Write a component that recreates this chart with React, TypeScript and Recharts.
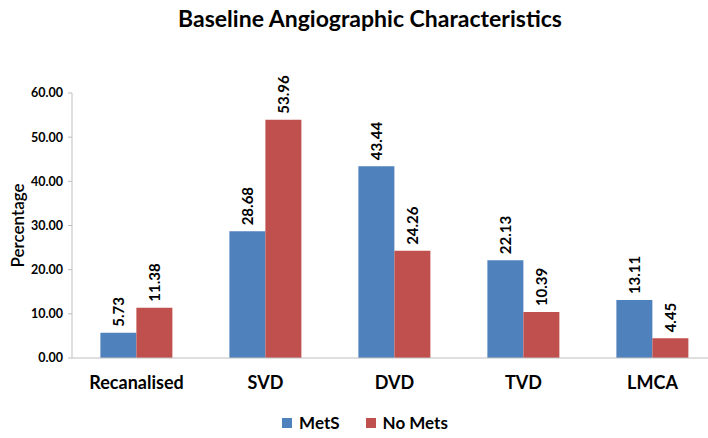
import { BarChart, Bar, XAxis, YAxis, LabelList } from "recharts";

const categories = ["Recanalised", "SVD", "DVD", "TVD", "LMCA"];
const metS = [5.73, 28.68, 43.44, 22.13, 13.11];
const noMets = [11.38, 53.96, 24.26, 10.39, 4.45];
const yTicks = [0, 10, 20, 30, 40, 50, 60];

const data = categories.map((name, i) => ({ name, metS: metS[i], noMets: noMets[i] }));

const FONT = "Lato, 'Open Sans', sans-serif";

const BarLabel = (props: any) => {
  const { x, y, width, value } = props;
  const cx = x + width / 2;
  const cy = y - 6;
  return (
    <text
      x={cx}
      y={cy}
      transform={`rotate(-90, ${cx}, ${cy})`}
      textAnchor="start"
      dominantBaseline="central"
      fontSize={15}
      fontWeight={700}
      fontFamily={FONT}
      fill="#000"
    >
      {Number(value).toFixed(2)}
    </text>
  );
};

export default function App() {
  return (
    <div style={{ position: "absolute", left: 0, top: 0, width: 708, height: 438, overflow: "hidden", background: "#fff" }}>
      <div style={{ position: "absolute", top: 4, left: 0, width: 740, textAlign: "center", fontFamily: FONT, fontWeight: 700, fontSize: 23 }}>
        Baseline Angiographic Characteristics
      </div>
      <BarChart
        width={720}
        height={438}
        data={data}
        margin={{ top: 93, right: 3, left: 0, bottom: 0 }}
        barCategoryGap="22%"
        barGap={0}
      >
        <XAxis
          dataKey="name"
          height={80}
          axisLine={{ stroke: "#bfbfbf" }}
          tickLine={false}
          tick={{ fontSize: 18, fontWeight: 700, fontFamily: FONT, fill: "#000" }}
          tickMargin={12}
        />
        <YAxis
          width={72}
          domain={[0, 60]}
          ticks={yTicks}
          interval={0}
          tickFormatter={(v: number) => v.toFixed(2)}
          axisLine={{ stroke: "#bfbfbf" }}
          tickLine={{ stroke: "#bfbfbf" }}
          tickSize={4}
          tickMargin={5}
          tick={{ fontSize: 12.5, fontWeight: 700, fontFamily: FONT, fill: "#000" }}
          label={{ value: "Percentage", angle: -90, position: "insideLeft", offset: 18, style: { fontSize: 17, fontFamily: FONT, fontWeight: 600, fill: "#000", textAnchor: "middle" } }}
        />
        <Bar dataKey="metS" name="MetS" fill="#4F81BD" isAnimationActive={false}>
          <LabelList dataKey="metS" content={<BarLabel />} />
        </Bar>
        <Bar dataKey="noMets" name="No Mets" fill="#C0504D" isAnimationActive={false}>
          <LabelList dataKey="noMets" content={<BarLabel />} />
        </Bar>
      </BarChart>
      <div style={{ position: "absolute", top: 412, left: 0, width: 730, display: "flex", justifyContent: "center", gap: 26, fontFamily: FONT, fontWeight: 700, fontSize: 17 }}>
        <span style={{ display: "flex", alignItems: "center" }}>
          <span style={{ width: 10, height: 10, background: "#4F81BD", marginRight: 7 }} />
          MetS
        </span>
        <span style={{ display: "flex", alignItems: "center" }}>
          <span style={{ width: 10, height: 10, background: "#C0504D", marginRight: 7 }} />
          No Mets
        </span>
      </div>
    </div>
  );
}
